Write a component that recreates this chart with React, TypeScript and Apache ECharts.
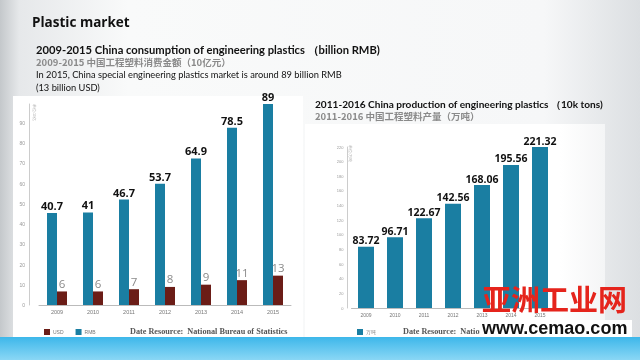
import React, { useEffect, useRef } from "react";
import * as echarts from "echarts";

const leftYears = ["2009", "2010", "2011", "2012", "2013", "2014", "2015"];
const rmbValues = [40.7, 41, 46.7, 53.7, 64.9, 78.5, 89];
const usdValues = [6, 6, 7, 8, 9, 11, 13];
const rightYears = ["2009", "2010", "2011", "2012", "2013", "2014", "2015"];
const productionValues = [83.72, 96.71, 122.67, 142.56, 168.06, 195.56, 221.32];

const TEAL = "#1a7ea2";
const BROWN = "#6b1d17";

export default function App() {
  const ref = useRef<HTMLDivElement>(null);
  useEffect(() => {
    if (!ref.current) return;
    const chart = echarts.init(ref.current, undefined, { renderer: "svg" });
    const tinyAxis = { fontSize: 5, color: "#999" };
    const option: any = {
      animation: false,
      graphic: [
        {
          type: "rect", z: -20, shape: { x: 0, y: 0, width: 640, height: 360 },
          style: {
            fill: new echarts.graphic.LinearGradient(0, 0, 1, 0, [
              { offset: 0, color: "#c4c8cb" },
              { offset: 0.03, color: "#e6e8ea" },
              { offset: 0.2, color: "#f9fafa" },
              { offset: 0.85, color: "#f6f7f8" },
              { offset: 1, color: "#dcdfe2" },
            ]),
          },
        },
        { type: "rect", z: -10, shape: { x: 13, y: 96, width: 290, height: 241 }, style: { fill: "#ffffff" } },
        {
          type: "rect", z: -10, shape: { x: 305, y: 124, width: 300, height: 213 },
          style: {
            fill: new echarts.graphic.LinearGradient(0, 0, 1, 0, [
              { offset: 0, color: "#ffffff" },
              { offset: 0.85, color: "#ffffff" },
              { offset: 1, color: "#f4f5f6" },
            ]),
          },
        },
        {
          type: "rect", z: -5, shape: { x: 0, y: 337, width: 640, height: 23 },
          style: {
            fill: new echarts.graphic.LinearGradient(0, 0, 0, 1, [
              { offset: 0, color: "#3db7ea" },
              { offset: 1, color: "#8ad7f5" },
            ]),
          },
        },
        { type: "text", x: 32, y: 15, style: { text: "Plastic market", fontSize: 13.5, fontWeight: "bold", fill: "#111", fontFamily: "Open Sans" } },
        { type: "text", x: 36, y: 44, style: { text: "2009-2015 China consumption of engineering plastics （billion RMB)", fontSize: 11.2, fontWeight: "bold", fill: "#111", fontFamily: "Lato" } },
        { type: "text", x: 36, y: 57, style: { text: "2009-2015 中国工程塑料消费金额（10亿元）", fontSize: 9.5, fontWeight: "bold", fill: "#8a8a8a", fontFamily: "Noto Sans CJK SC" } },
        { type: "text", x: 36, y: 70, style: { text: "In 2015, China special engineering plastics market is around 89 billion RMB", fontSize: 9.3, fill: "#111", fontFamily: "Lato" } },
        { type: "text", x: 36, y: 83, style: { text: "(13 billion USD)", fontSize: 9.3, fill: "#111", fontFamily: "Lato" } },
        { type: "text", x: 315, y: 99, style: { text: "2011-2016 China production of engineering plastics （10k tons)", fontSize: 10.1, fontWeight: "bold", fill: "#111", fontFamily: "Lato" } },
        { type: "text", x: 315, y: 111, style: { text: "2011-2016 中国工程塑料产量（万吨）", fontSize: 9.5, fontWeight: "bold", fill: "#8a8a8a", fontFamily: "Noto Sans CJK SC" } },
        { type: "text", x: 36, y: 104, rotation: -Math.PI / 2, style: { text: "单位:10亿", fontSize: 3.5, fill: "#aaa" } },
        { type: "text", x: 352, y: 145, rotation: -Math.PI / 2, style: { text: "单位:万吨", fontSize: 3.5, fill: "#aaa" } },
        { type: "text", x: 130, y: 327, style: { text: "Date Resource:  National Bureau of Statistics", fontSize: 8.2, fill: "#555", fontFamily: "Liberation Serif", fontWeight: "bold" } },
        { type: "text", x: 403, y: 327, style: { text: "Date Resource:  National Bureau of Statistics", fontSize: 8.2, fill: "#555", fontFamily: "Liberation Serif", fontWeight: "bold" } },
        { type: "text", z: 100, x: 482, y: 283, style: { text: "亚洲工业网", fontSize: 29, fontWeight: "bold", fill: "#e5241c", fontFamily: "Noto Sans CJK SC" } },
        { type: "rect", z: 99, shape: { x: 480, y: 320, width: 152, height: 17 }, style: { fill: "#ffffff" } },
        { type: "text", z: 100, x: 482, y: 319, style: { text: "www.cemao.com", fontSize: 18, fontWeight: "bold", fill: "#111", fontFamily: "Liberation Sans" } },
      ],
      legend: [
        {
          data: ["USD", "RMB"], left: 44, top: 329, itemWidth: 6, itemHeight: 6, itemGap: 12,
          icon: "rect", textStyle: { fontSize: 5, color: "#777", padding: [0, 0, 0, -2] }, padding: 0,
        },
        {
          data: ["万吨"], left: 357, top: 329, itemWidth: 6, itemHeight: 6,
          icon: "rect", textStyle: { fontSize: 5, color: "#777", padding: [0, 0, 0, -2] }, padding: 0,
        },
      ],
      grid: [
        { left: 39, width: 252, top: 104, bottom: 55 },
        { left: 351.5, width: 203, top: 147, bottom: 52 },
      ],
      xAxis: [
        {
          type: "category", gridIndex: 0, data: leftYears,
          axisLine: { lineStyle: { color: "#bbb" } }, axisTick: { show: false },
          axisLabel: { fontSize: 5.5, color: "#777", margin: 4 },
        },
        {
          type: "category", gridIndex: 1, data: rightYears,
          axisLine: { lineStyle: { color: "#bbb" } }, axisTick: { show: false },
          axisLabel: { fontSize: 5, color: "#777", margin: 4 },
        },
      ],
      yAxis: [
        {
          type: "value", gridIndex: 0, min: 0, max: 99.4, interval: 10, offset: 10,
          axisLine: { show: true, lineStyle: { color: "#ccc" } }, axisTick: { show: false },
          splitLine: { show: false }, axisLabel: { ...tinyAxis, showMaxLabel: false, margin: 4 },
        },
        { type: "value", gridIndex: 0, min: 0, max: 89, show: false },
        {
          type: "value", gridIndex: 1, min: 0, max: 220, interval: 20, offset: 4,
          axisLine: { show: true, lineStyle: { color: "#ccc" } }, axisTick: { show: false },
          splitLine: { show: false }, axisLabel: { fontSize: 4, color: "#999", margin: 4 },
        },
      ],
      series: [
        {
          name: "RMB", type: "bar", xAxisIndex: 0, yAxisIndex: 1, data: rmbValues,
          barWidth: 10, barGap: "0%", itemStyle: { color: TEAL },
          label: { show: true, position: "top", distance: 2, fontSize: 11, fontWeight: "bold", color: "#111", fontFamily: "Open Sans" },
        },
        {
          name: "USD", type: "bar", xAxisIndex: 0, yAxisIndex: 1, data: usdValues,
          barWidth: 10, barGap: "0%", itemStyle: { color: BROWN },
          label: { show: true, position: "top", distance: 2, fontSize: 11.5, color: "#8a8a8a", fontFamily: "Open Sans" },
        },
        {
          name: "万吨", type: "bar", xAxisIndex: 1, yAxisIndex: 2, data: productionValues,
          barWidth: 16, itemStyle: { color: TEAL },
          label: { show: true, position: "top", distance: 1, fontSize: 10.5, fontWeight: "bold", color: "#111", fontFamily: "Open Sans" },
        },
      ],
    };
    chart.setOption(option);
    return () => chart.dispose();
  }, []);
  return <div ref={ref} style={{ position: "fixed", left: 0, top: 0, width: 640, height: 360 }} />;
}
